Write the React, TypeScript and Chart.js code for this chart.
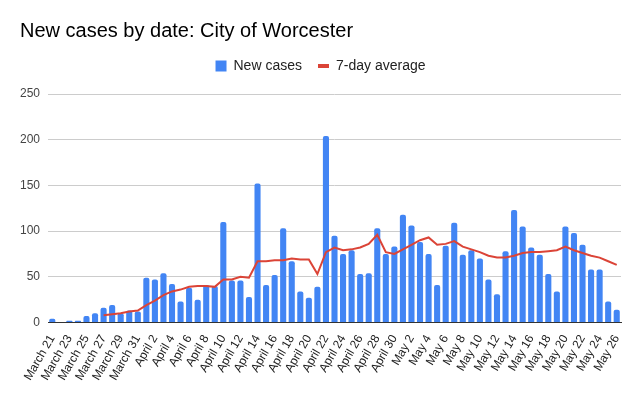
import React, { useEffect, useRef } from "react";
import { Chart, registerables } from "chart.js";

Chart.register(...registerables);

const labels = [
  "March 21","March 22","March 23","March 24","March 25","March 26","March 27","March 28","March 29","March 30","March 31",
  "April 1","April 2","April 3","April 4","April 5","April 6","April 7","April 8","April 9","April 10",
  "April 11","April 12","April 13","April 14","April 15","April 16","April 17","April 18","April 19","April 20",
  "April 21","April 22","April 23","April 24","April 25","April 26","April 27","April 28","April 29","April 30",
  "May 1","May 2","May 3","May 4","May 5","May 6","May 7","May 8","May 9","May 10",
  "May 11","May 12","May 13","May 14","May 15","May 16","May 17","May 18","May 19","May 20",
  "May 21","May 22","May 23","May 24","May 25","May 26",
];

const newCases = [
  4, 0, 2, 2, 7, 10, 16, 19, 10, 13, 12,
  49, 47, 54, 42, 23, 38, 25, 41, 40, 110,
  46, 46, 28, 152, 41, 52, 103, 67, 34, 27,
  39, 204, 95, 75, 79, 53, 54, 103, 75, 83,
  118, 106, 88, 75, 41, 84, 109, 74, 79, 70,
  47, 31, 78, 123, 105, 82, 74, 53, 34, 105,
  98, 85, 58, 58, 23, 14,
];

const sevenDayAverage = [
  null, null, null, null, null, null, 8, 9, 10, 12, 13,
  19, 24, 30, 34, 36, 39, 40, 40, 39, 47,
  47, 50, 49, 67, 67, 68, 68, 70, 69, 69,
  53, 77, 82, 79, 80, 82, 86, 96, 77, 75,
  80, 85, 90, 93, 85, 86, 89, 83, 80, 77,
  73, 71, 71, 73, 76, 77, 77, 78, 79, 83,
  79, 76, 73, 71, 67, 63,
];

const yTicks = [0, 50, 100, 150, 200, 250];

const FONT = "'Liberation Sans', Arial, sans-serif";

const layoutTweaks = {
  id: "layoutTweaks",
  beforeInit(chart: any) {
    const origFit = chart.legend.fit;
    chart.legend.fit = function () {
      origFit.bind(chart.legend)();
      this.height += 11;
    };
  },
  beforeLayout(chart: any) {
    const x = chart.scales && chart.scales.x;
    if (x) {
      x.getPadding = () => ({ left: 0, right: 0, top: 0, bottom: 0 });
    }
  },
};

export default function App() {
  const ref = useRef<HTMLCanvasElement | null>(null);
  useEffect(() => {
    document.body.style.margin = "0";
    if (!ref.current) return;
    const chart = new Chart(ref.current, {
      type: "bar",
      plugins: [layoutTweaks],
      data: {
        labels,
        datasets: [
          {
            type: "bar",
            label: "New cases",
            data: newCases,
            backgroundColor: "#4285F4",
            borderRadius: 2,
            borderSkipped: "bottom",
            barPercentage: 0.75,
            categoryPercentage: 0.95,
            pointStyle: "rect",
            order: 2,
          },
          {
            type: "line",
            label: "7-day average",
            data: sevenDayAverage as any,
            borderColor: "#DB4437",
            backgroundColor: "#DB4437",
            borderWidth: 2,
            pointRadius: 0,
            tension: 0,
            pointStyle: "line",
            order: 1,
          },
        ],
      },
      options: {
        animation: false,
        responsive: false,
        maintainAspectRatio: false,
        layout: { padding: { left: 20, right: 20, top: 5, bottom: 11 } },
        plugins: {
          title: {
            display: true,
            text: "New cases by date: City of Worcester",
            align: "start",
            color: "#000",
            font: { family: FONT, size: 20, weight: "normal" },
            padding: { top: 14, bottom: 0 },
          },
          legend: {
            display: true,
            position: "top",
            labels: {
              usePointStyle: true,
              boxWidth: 11,
              boxHeight: 11,
              pointStyleWidth: 11,
              color: "#222",
              font: { family: FONT, size: 14 },
              padding: 16,
              sort: (a: any, b: any) => a.datasetIndex - b.datasetIndex,
              generateLabels: (c: any) => {
                const items = Chart.defaults.plugins.legend.labels.generateLabels(c);
                items.forEach((it: any) => {
                  if (it.datasetIndex === 1) it.lineWidth = 4;
                  else it.lineWidth = 0;
                });
                return items;
              },
            },
          },
          tooltip: { enabled: false },
        },
        scales: {
          x: {
            grid: { display: false },
            border: { display: true, color: "#333", width: 1 },
            afterFit: (scale: any) => {
              scale.paddingLeft = 0;
            },
            ticks: {
              autoSkip: false,
              maxRotation: 60,
              minRotation: 60,
              color: "#222",
              font: { family: FONT, size: 12 },
              padding: 2,
              callback: (_v: any, i: number) => (i % 2 === 0 ? labels[i] : ""),
            },
          },
          y: {
            min: 0,
            max: 250,
            afterBuildTicks: (axis: any) => {
              axis.ticks = yTicks.map((v) => ({ value: v }));
            },
            afterFit: (scale: any) => {
              scale.width = 28;
            },
            grid: {
              color: (ctx: any) => (ctx.tick && ctx.tick.value === 0 ? "#333" : "#cccccc"),
              drawTicks: false,
            },
            border: { display: false },
            ticks: {
              color: "#444",
              font: { family: FONT, size: 12 },
              padding: 8,
            },
          },
        },
      },
    });
    return () => chart.destroy();
  }, []);
  return (
    <div style={{ position: "absolute", left: 0, top: 0, width: 641, height: 396 }}>
      <canvas ref={ref} width={641} height={396} style={{ width: 641, height: 396 }} />
    </div>
  );
}
